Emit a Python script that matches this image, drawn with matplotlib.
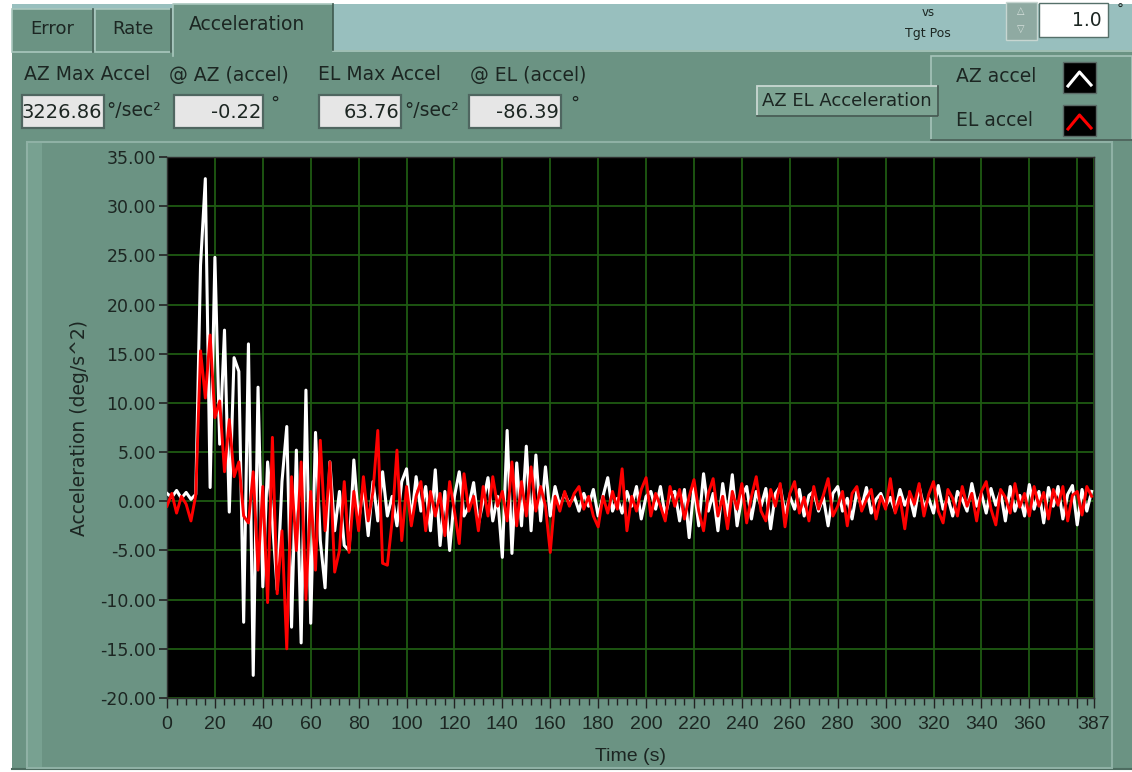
import numpy as np
import matplotlib
matplotlib.use("Agg")
import matplotlib.pyplot as plt
from matplotlib.patches import Rectangle
from matplotlib.lines import Line2D

# ---------------- data ----------------
time_s = np.arange(0, 387, 2)  # sample times (s)

az_accel = [
    0.8, 0.4, 1.1, 0.3, 0.9, 0.2, 0.7, 24.0, 32.8, 1.4,
    24.8, 5.8, 17.4, -1.1, 14.6, 13.2, -12.3, 16.0, -17.7, 11.6,
    -8.7, 4.0, -2.0, -9.0, 2.0, 7.6, -12.8, 5.2, -14.4, 11.3,
    -12.4, 7.0, -4.0, -8.8, 4.0, -3.0, 1.0, -4.5, -5.0, 4.2,
    -2.0, 1.5, -3.5, 2.0, -2.0, 3.0, -1.5, 0.5, -2.5, 2.0,
    3.3, -2.0, 2.5, -1.0, 1.5, -3.0, 3.2, -4.5, 1.0, -5.0,
    0.5, 3.0, -1.5, -0.5, 1.9, -2.3, 0.0, 2.4, -2.0, 0.5,
    -5.7, 7.2, -5.3, 3.9, -2.5, 5.6, -3.0, 4.7, -2.0, 3.5,
    -1.5, 1.5, -0.5, 0.8, -0.3, 0.5, -1.0, 0.8, -0.5, 1.2,
    -1.5, 0.5, 2.4, -1.0, 0.3, -1.2, 1.0, -0.5, 1.5, -1.8,
    0.5, 1.0, -0.8, 1.5, -1.5, 0.7, 1.0, -2.0, 1.2, -3.7,
    1.5, -2.5, 2.8, -1.0, 0.8, -3.0, 1.8, -1.5, 2.7, -2.5,
    0.5, 1.5, -1.8, 1.0, -0.5, 1.3, -2.8, 0.8, 1.5, -1.2,
    0.5, -0.8, 1.2, -1.5, 0.6, 1.0, -1.0, 0.4, -2.5, 0.8,
    1.5, -1.0, 0.3, -1.8, 1.0, -0.6, 1.4, -1.2, 0.2, 0.8,
    -0.5, 0.4, -1.0, 1.2, -0.4, 0.6, -1.5, 1.5, -0.6, 0.3,
    -1.2, 1.6, -0.8, 0.4, -1.5, 1.0, 0.2, -1.0, 1.8, -0.5,
    0.8, -1.2, 1.3, -0.4, 1.0, -2.0, 1.5, -1.0, 0.6, -1.5,
    1.7, -0.8, 1.0, -2.2, 1.4, -0.5, 1.5, -1.8, 0.7, 1.6,
    -2.4, 1.2, -1.0, 1.0,
]

el_accel = [
    -0.5, 0.8, -1.2, 0.5, -0.3, -2.0, 0.6, 15.3, 10.5, 16.9,
    8.5, 10.2, 3.0, 8.3, 2.5, 4.0, -1.5, -2.2, 3.0, -7.0,
    1.5, -10.3, 6.5, -9.4, -3.0, -15.0, 2.5, -5.0, 4.0, -10.0,
    1.0, -7.0, 6.2, -3.0, 4.0, -7.2, -5.0, 2.0, -5.2, 1.0,
    -3.0, 2.5, -2.0, 1.0, 7.2, -6.3, -6.5, -2.0, 5.2, -4.0,
    1.5, -2.5, 0.5, 2.0, -3.0, 1.0, -1.5, 0.8, -3.5, 2.0,
    -1.0, -4.3, 2.8, -1.0, 0.5, -3.0, 1.5, -1.5, 2.5, -0.5,
    1.0, -2.0, 4.0, -2.5, 2.0, -1.5, 3.5, -1.0, 1.5, -0.5,
    -5.2, 0.5, -1.0, 1.0, -0.5, 0.8, 1.5, -0.8, 0.5, -1.5,
    -2.6, 0.5, -1.2, 1.0, -0.8, 3.3, -3.0, 0.5, -1.0, 1.2,
    2.4, -1.5, 0.8, -0.5, -2.0, 1.5, -0.5, 1.2, -1.8, 0.5,
    2.2, -1.0, -3.0, 0.8, 2.3, -1.5, 0.5, -2.8, 1.0, -0.8,
    1.8, -2.2, 0.5, 2.5, -1.0, -2.0, 1.2, -0.5, 1.8, -2.6,
    0.8, 2.0, -1.2, 0.4, -2.0, 1.5, -0.8, 0.6, 2.3, -1.5,
    -0.5, 1.0, -2.5, 0.8, 1.5, -1.0, 0.2, 1.2, -1.8, 0.5,
    -0.8, 2.3, -1.2, 0.4, -2.8, 1.0, -0.3, 1.8, -1.5, 0.7,
    2.0, -1.0, -2.2, 1.2, 0.3, -1.5, 1.5, -0.5, 0.8, -2.0,
    1.0, 2.0, -0.8, -2.4, 1.2, 0.4, -1.2, 1.8, -0.6, 0.8,
    -1.5, 1.5, -0.5, 0.9, -1.8, 1.2, -0.4, 1.5, -2.0, 0.6,
    1.0, -1.4, 1.5, 0.5,
]

y_ticks = [-20, -15, -10, -5, 0, 5, 10, 15, 20, 25, 30, 35]
x_grid = list(range(0, 381, 20))
x_labels_at = list(range(0, 361, 20)) + [387]

# ---------------- style ----------------
PANEL = "#6b9383"
BAND = "#98bfbe"
TEXT = "#1c2622"
UI_FONT = ["DejaVu Sans"]
NARROW = ["Liberation Sans Narrow", "Liberation Sans", "DejaVu Sans"]
FS = 13.5

W, H = 1132, 772
fig = plt.figure(figsize=(W / 100, H / 100), dpi=100, facecolor="white")

bg = fig.add_axes([0, 0, 1, 1])
bg.set_xlim(0, W)
bg.set_ylim(H, 0)
bg.axis("off")

def rect(x0, y0, x1, y1, fc, ec="none", lw=0, z=1):
    r = Rectangle((x0, y0), x1 - x0, y1 - y0, facecolor=fc, edgecolor=ec, linewidth=lw, zorder=z)
    bg.add_patch(r)
    return r

def txt(x, y, s, size=FS, ha="left", va="center", color=TEXT, fam=UI_FONT, z=5, **kw):
    return bg.text(x, y, s, fontsize=size, ha=ha, va=va, color=color, family=fam, zorder=z, **kw)

# band right of tabs and panel body
rect(12, 4, W, 52, BAND)
rect(12, 50, W, 770, PANEL)
bg.plot([12, W], [769, 769], color="#4d6c60", lw=1.5, zorder=2)

# tabs
for (x0, x1, label, tx) in [(12, 93, "Error", 52), (95, 171, "Rate", 133)]:
    rect(x0, 9, x1, 52, PANEL, ec="#a9c7bd", lw=1.2, z=2)
    bg.plot([x1, x1], [9, 52], color="#3f5a50", lw=1.2, zorder=3)
    txt(tx, 29, label, size=13, ha="center")
rect(173, 4, 333, 56, PANEL, ec="none", z=3)
bg.plot([173, 173, 333], [56, 4, 4], color="#a9c7bd", lw=1.2, zorder=4)
bg.plot([333, 333], [4, 50], color="#3f5a50", lw=1.2, zorder=4)
txt(247, 25, "Acceleration", size=FS, ha="center")
bg.plot([333, W], [51, 51], color="#a9c7bd", lw=1.2, zorder=3)

# vs Tgt Pos + numeric control
txt(928, 12, "vs", size=8.5, ha="center")
txt(928, 33, "Tgt Pos", size=9, ha="center")
rect(1006, 2, 1037, 40, "#8faaa2", ec="#c7d6d1", lw=1, z=3)
txt(1021, 11, "\u25B3", size=7, ha="center", color="#d8e2de")
txt(1021, 29, "\u25BD", size=7, ha="center", color="#d8e2de")
rect(1039, 3, 1108, 37, "white", ec="#55706a", lw=1, z=3)
txt(1102, 20, "1.0", size=FS, ha="right")
txt(1120, 10, "\u00B0", size=10, ha="center")

# indicator labels
txt(24, 75, "AZ Max Accel", size=FS)
txt(169, 75, "@ AZ (accel)", size=FS)
txt(318, 75, "EL Max Accel", size=FS)
txt(470, 75, "@ EL (accel)", size=FS)

# indicator boxes
boxes = [(22, 104, "3226.86"), (174, 263, "-0.22"), (319, 401, "63.76"), (469, 561, "-86.39")]
for x0, x1, val in boxes:
    r = rect(x0, 95, x1, 128, "#e6e6e6", ec="#4f6660", lw=1.6, z=3)
    t = txt(x1 - 2, 112, val, size=14, ha="right")
    t.set_clip_path(r)
txt(106, 110, "\u00B0/sec\u00B2", size=FS)
txt(270, 104, "\u00B0", size=13)
txt(404, 110, "\u00B0/sec\u00B2", size=FS)
txt(570, 104, "\u00B0", size=13)

# button
rect(757, 86, 938, 116, "#7da493", ec="#c9d8d2", lw=1.3, z=3)
bg.plot([757, 938, 938], [116, 116, 86], color="#41584f", lw=1.3, zorder=4)
txt(847, 101, "AZ EL Acceleration", size=13, ha="center")

# legend panel
rect(931, 56, W, 140, "#6f9888", ec="#a6c4ba", lw=1.2, z=2)
bg.plot([931, W], [140, 140], color="#41584f", lw=1.2, zorder=3)
txt(956, 77, "AZ accel", size=FS)
txt(956, 120, "EL accel", size=FS)
for y0, col in [(62, "white"), (105, "#ff0000")]:
    rect(1063, y0, 1096, y0 + 31, "black", ec="#5a6a66", lw=1, z=3)
    bg.add_line(Line2D([1068, 1079.5, 1091], [y0 + 24, y0 + 10, y0 + 23], color=col, lw=2.2, zorder=4))

# graph frame
rect(27, 142, 1112, 768, PANEL, ec="#8fb1a5", lw=1.5, z=2)
rect(28, 143, 42, 767, "#78a191", z=2)

# ---------------- plot ----------------
L, R, T, B = 167, 1094, 157, 698
ax = fig.add_axes([L / W, 1 - B / H, (R - L) / W, (B - T) / H])
ax.set_facecolor("black")
ax.plot(time_s, az_accel, color="white", lw=2.2, zorder=3)
ax.plot(time_s, el_accel, color="#ff0000", lw=2.1, zorder=4)
ax.set_xlim(0, 387)
ax.set_ylim(-20, 35)

ax.set_yticks(y_ticks)
ax.set_yticklabels([f"{v:.2f}" for v in y_ticks])
ax.set_xticks(x_grid + [387])
ax.set_xticklabels([str(v) if v in x_labels_at else "" for v in x_grid + [387]])
ax.set_xticks([v for v in range(0, 387, 4) if v % 20 != 0], minor=True)

ax.grid(True, which="major", color="#1f5a12", lw=1.3, zorder=1)
for lab in ax.get_yticklabels():
    lab.set_family(UI_FONT)
for lab in ax.get_xticklabels():
    lab.set_family(NARROW)
ax.tick_params(axis="y", direction="out", length=6, width=1.2, color="#222", labelsize=12.5,
               labelcolor=TEXT, pad=2)
ax.tick_params(axis="x", which="major", direction="out", length=7, width=1.0, color="#222",
               labelsize=14, labelcolor=TEXT, pad=6)
ax.tick_params(axis="x", which="minor", direction="out", length=5, width=1.0, color="#222")
for s in ax.spines.values():
    s.set_color("#303030")
    s.set_linewidth(1)

ax.set_ylabel("Acceleration (deg/s^2)", fontsize=13.5, color=TEXT, family=UI_FONT, labelpad=8)
ax.set_xlabel("Time (s)", fontsize=14, color=TEXT, family=NARROW, labelpad=11)

fig.savefig("out.png", dpi=100, facecolor="white")
